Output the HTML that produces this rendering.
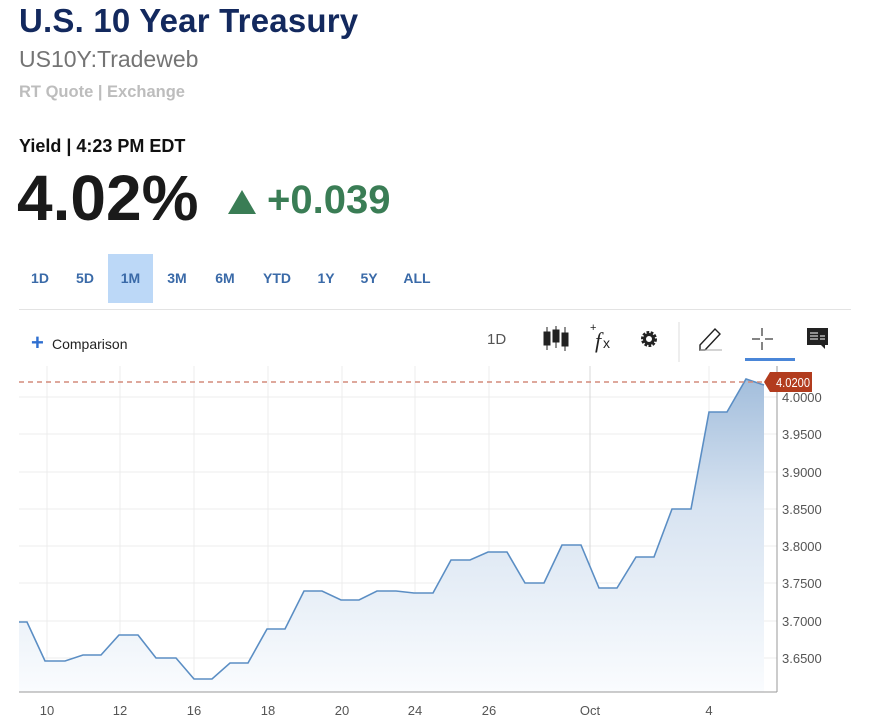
<!DOCTYPE html>
<html><head><meta charset="utf-8"><style>
body{margin:0;width:876px;height:728px;background:#fff;font-family:"Liberation Sans",Arial,sans-serif;position:relative;overflow:hidden}
.a{position:absolute;white-space:nowrap}
.tab{position:absolute;top:254px;height:49px;line-height:49px;font-size:14px;font-weight:bold;color:#3a6aa8;text-align:center}
</style></head><body>
<div class="a" style="left:19px;top:2px;font-size:33px;font-weight:bold;color:#13295e;letter-spacing:0.2px">U.S. 10 Year Treasury</div>
<div class="a" style="left:19px;top:46px;font-size:23px;color:#747474">US10Y:Tradeweb</div>
<div class="a" style="left:19px;top:83px;font-size:16.5px;font-weight:bold;color:#bdbdbd">RT Quote | Exchange</div>
<div class="a" style="left:19px;top:136px;font-size:18px;font-weight:bold;color:#111">Yield | 4:23 PM EDT</div>
<div class="a" style="left:17px;top:161px;font-size:64px;font-weight:bold;color:#1a1a1a;letter-spacing:0px">4.02%</div>
<div class="a" style="left:228px;top:190px;width:0;height:0;border-left:14px solid transparent;border-right:14px solid transparent;border-bottom:24px solid #3a7d55"></div>
<div class="a" style="left:267px;top:178px;font-size:40px;font-weight:bold;color:#3a7d55">+0.039</div>
<div class="a" style="left:108px;top:254px;width:45px;height:49px;background:#bcd8f7"></div>
<div class="tab" style="left:24px;width:32px">1D</div>
<div class="tab" style="left:68px;width:34px">5D</div>
<div class="tab" style="left:110px;width:41px">1M</div>
<div class="tab" style="left:160px;width:34px">3M</div>
<div class="tab" style="left:208px;width:34px">6M</div>
<div class="tab" style="left:256px;width:42px">YTD</div>
<div class="tab" style="left:312px;width:28px">1Y</div>
<div class="tab" style="left:354px;width:30px">5Y</div>
<div class="tab" style="left:398px;width:38px">ALL</div>
<div class="a" style="left:19px;top:309px;width:832px;height:1px;background:#e3e3e3"></div>
<div class="a" style="left:31px;top:330px;font-size:22px;font-weight:bold;color:#2f6fd0">+</div>
<div class="a" style="left:52px;top:336px;font-size:14px;color:#222">Comparison</div>
<div class="a" style="left:487px;top:331px;font-size:15px;color:#555">1D</div>
<svg class="a" style="left:0;top:0" width="876" height="728">
<g fill="#222" stroke="#222">
<line x1="547" y1="327" x2="547" y2="350"/><rect x="544" y="332" width="6" height="13"/>
<line x1="556" y1="326" x2="556" y2="348"/><rect x="553" y="330" width="6" height="12"/>
<line x1="565" y1="327" x2="565" y2="351"/><rect x="562" y="333" width="6" height="13"/>
</g>
<text x="590" y="331" font-size="11" fill="#222">+</text>
<text x="595" y="348" font-size="22" font-style="italic" font-family="Liberation Serif" fill="#222">f</text>
<text x="603" y="348" font-size="14" fill="#222">x</text>
<circle cx="649" cy="339" r="6" fill="none" stroke="#222" stroke-width="4" stroke-dasharray="2.4 1.3"/>
<circle cx="649" cy="339" r="4.5" fill="none" stroke="#222" stroke-width="3"/>
<line x1="679" y1="322" x2="679" y2="362" stroke="#ddd"/>
<path d="M700 345 L715 329 L720 334 L705 350 L700 350 Z" fill="none" stroke="#222" stroke-width="1.4"/>
<line x1="700" y1="350" x2="722" y2="350" stroke="#aaa"/>
<g stroke="#333" stroke-width="1.2"><line x1="752" y1="339" x2="760" y2="339"/><line x1="765" y1="339" x2="773" y2="339"/><line x1="762" y1="328" x2="762" y2="336"/><line x1="762" y1="342" x2="762" y2="350"/></g>
<rect x="745" y="358" width="50" height="3" fill="#4a86d8"/>
<path d="M807 328 H828 V345 H825 V349 L821 345 H807 Z" fill="#222"/>
<g stroke="#fff" stroke-width="1"><line x1="810" y1="333" x2="818" y2="333"/><line x1="810" y1="336" x2="818" y2="336"/><line x1="810" y1="339" x2="818" y2="339"/><line x1="820" y1="336" x2="825" y2="336"/><line x1="820" y1="339" x2="825" y2="339"/></g>
<defs><linearGradient id="g" x1="0" y1="0" x2="0" y2="1"><stop offset="0" stop-color="#a3bedc"/><stop offset="0.4" stop-color="#d7e3f1"/><stop offset="1" stop-color="#fafcfe"/></linearGradient></defs>
<g stroke="#ececec" stroke-width="1">
<line x1="19" y1="397" x2="777" y2="397"/><line x1="19" y1="434" x2="777" y2="434"/><line x1="19" y1="472" x2="777" y2="472"/><line x1="19" y1="509" x2="777" y2="509"/><line x1="19" y1="546" x2="777" y2="546"/><line x1="19" y1="583" x2="777" y2="583"/><line x1="19" y1="621" x2="777" y2="621"/><line x1="19" y1="658" x2="777" y2="658"/>
<line x1="47" y1="366" x2="47" y2="692"/><line x1="120" y1="366" x2="120" y2="692"/><line x1="194" y1="366" x2="194" y2="692"/><line x1="268" y1="366" x2="268" y2="692"/><line x1="342" y1="366" x2="342" y2="692"/><line x1="415" y1="366" x2="415" y2="692"/><line x1="489" y1="366" x2="489" y2="692"/><line x1="709" y1="366" x2="709" y2="692"/>
</g>
<line x1="590" y1="366" x2="590" y2="692" stroke="#d8d8d8"/>
<path d="M19,622 L27,622 L45,661 L65,661 L83,655 L101,655 L119,635 L138,635 L156,658 L176,658 L194,679 L212,679 L230,663 L248,663 L267,629 L285,629 L304,591 L322,591 L341,600 L359,600 L377,591 L396,591 L414,593 L433,593 L451,560 L470,560 L488,552 L507,552 L525,583 L544,583 L562,545 L581,545 L599,588 L617,588 L636,557 L654,557 L672,509 L691,509 L709,412 L727,412 L746,379 L764,385 L764,692 L19,692 Z" fill="url(#g)"/>
<path d="M19,622 L27,622 L45,661 L65,661 L83,655 L101,655 L119,635 L138,635 L156,658 L176,658 L194,679 L212,679 L230,663 L248,663 L267,629 L285,629 L304,591 L322,591 L341,600 L359,600 L377,591 L396,591 L414,593 L433,593 L451,560 L470,560 L488,552 L507,552 L525,583 L544,583 L562,545 L581,545 L599,588 L617,588 L636,557 L654,557 L672,509 L691,509 L709,412 L727,412 L746,379 L764,385" fill="none" stroke="#5b8ec4" stroke-width="1.6"/>
<line x1="19" y1="382" x2="764" y2="382" stroke="#d48c7c" stroke-width="1.5" stroke-dasharray="5 4"/>
<line x1="19" y1="692" x2="777" y2="692" stroke="#999"/>
<line x1="777" y1="366" x2="777" y2="692" stroke="#999"/>
<path d="M770 372 H812 V392 H770 L764 382 Z" fill="#b23c1e"/>
<text x="776" y="387" font-size="12.5" fill="#fff" textLength="34" lengthAdjust="spacingAndGlyphs">4.0200</text>
<g font-size="13" fill="#555">
<text x="782" y="402">4.0000</text><text x="782" y="439">3.9500</text><text x="782" y="477">3.9000</text><text x="782" y="514">3.8500</text><text x="782" y="551">3.8000</text><text x="782" y="588">3.7500</text><text x="782" y="626">3.7000</text><text x="782" y="663">3.6500</text>
</g>
<g font-size="13" fill="#555" text-anchor="middle">
<text x="47" y="715">10</text><text x="120" y="715">12</text><text x="194" y="715">16</text><text x="268" y="715">18</text><text x="342" y="715">20</text><text x="415" y="715">24</text><text x="489" y="715">26</text><text x="590" y="715">Oct</text><text x="709" y="715">4</text>
</g>
</svg>
</body></html>
